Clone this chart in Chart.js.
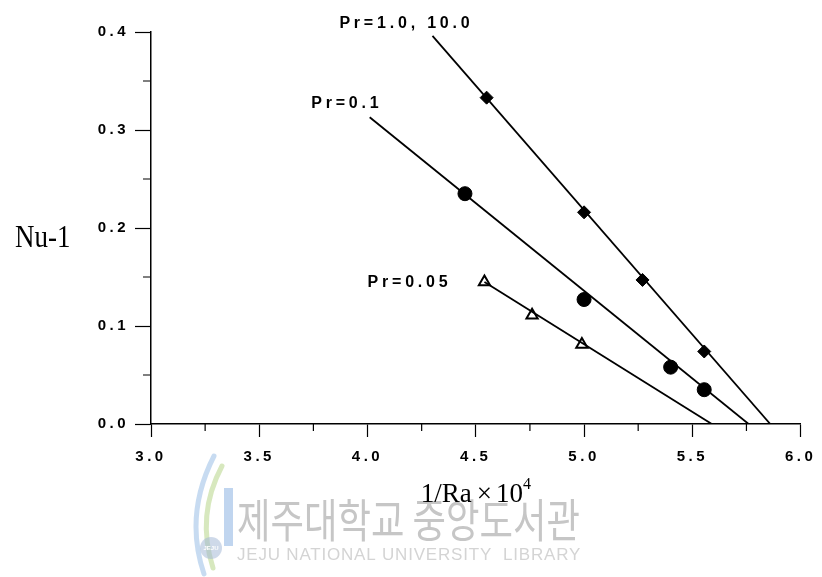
<!DOCTYPE html>
<html>
<head>
<meta charset="utf-8">
<script src="https://cdn.jsdelivr.net/npm/chart.js@4.4.1/dist/chart.umd.min.js"></script>
<style>
  html, body { margin: 0; padding: 0; background: #fff; }
</style>
</head>
<body>
<canvas id="nuChart" width="822" height="577"></canvas>
<script>
/* Nu-1 against 1/Ra x 10^4 for several Prandtl numbers */

// Pr = 1.0, 10.0 (diamonds)
const highX = [4.55, 5.0, 5.27, 5.555];
const highY = [0.333, 0.216, 0.147, 0.074];
const highFitX = [4.30, 5.86];
const highFitY = [0.396, 0.0];

// Pr = 0.1 (filled circles)
const midX = [4.45, 5.0, 5.40, 5.555];
const midY = [0.235, 0.127, 0.058, 0.035];
const midFitX = [4.01, 5.76];
const midFitY = [0.313, 0.0];

// Pr = 0.05 (open triangles)
const lowX = [4.54, 4.76, 4.99];
const lowY = [0.145, 0.111, 0.081];
const lowFitX = [4.54, 5.59];
const lowFitY = [0.145, 0.0];

// curve labels and where they sit (data units)
const curveNames = ['Pr=1.0, 10.0', 'Pr=0.1', 'Pr=0.05'];
const curveNameX = [3.87, 3.74, 4.0];
const curveNameY = [0.409, 0.327, 0.144];

// axes
const xMin = 3.0, xMax = 6.0, xStep = 0.5;
const yMin = 0.0, yMax = 0.4, yStep = 0.1;
const xMinorTicks = [3.25, 3.75, 4.25, 4.75, 5.25, 5.75];
const yMinorTicks = [0.05, 0.15, 0.25, 0.35];

function pts(xs, ys) {
    return xs.map((x, i) => ({x: x, y: ys[i]}));
}

function fitLine(xs, ys) {
    return {
        data: pts(xs, ys),
        showLine: true,
        borderColor: '#000',
        borderWidth: 1.8,
        pointRadius: 0,
        pointHoverRadius: 0
    };
}

function drawWatermark(ctx) {
    // logo (rough)
    ctx.lineCap = 'round';
    ctx.lineWidth = 5;
    ctx.strokeStyle = 'rgba(130,175,225,0.45)';
    ctx.beginPath();
    ctx.moveTo(214, 456);
    ctx.quadraticCurveTo(184, 515, 204, 574);
    ctx.stroke();
    ctx.strokeStyle = 'rgba(175,210,125,0.5)';
    ctx.beginPath();
    ctx.moveTo(222, 466);
    ctx.quadraticCurveTo(196, 515, 213, 568);
    ctx.stroke();
    ctx.fillStyle = 'rgba(150,185,228,0.6)';
    ctx.fillRect(224, 488, 9, 58);
    ctx.fillStyle = 'rgba(165,185,215,0.55)';
    ctx.beginPath();
    ctx.arc(211, 548, 11, 0, Math.PI * 2);
    ctx.fill();
    ctx.fillStyle = '#fff';
    ctx.font = 'bold 6px "Liberation Sans", Arial, sans-serif';
    ctx.textAlign = 'center';
    ctx.textBaseline = 'middle';
    ctx.fillText('JEJU', 211, 548);

    // library name, narrow and tall like the scan
    ctx.textAlign = 'left';
    ctx.textBaseline = 'alphabetic';
    ctx.fillStyle = '#c6c6c6';
    ctx.font = '46px "Noto Sans CJK KR", sans-serif';
    const kr = '제주대학교 중앙도서관';
    const krW = ctx.measureText(kr).width;
    ctx.save();
    ctx.translate(237, 537);
    ctx.scale(343 / krW, 1);
    ctx.fillText(kr, 0, 0);
    ctx.restore();
    ctx.fillStyle = '#d4d4d4';
    ctx.font = '17px "Liberation Sans", Arial, sans-serif';
    ctx.letterSpacing = '0.8px';
    ctx.fillText('JEJU NATIONAL UNIVERSITY  LIBRARY', 237, 560);
    ctx.letterSpacing = '0px';
}

const decor = {
    id: 'decor',
    beforeDraw(chart) {
        const ctx = chart.ctx;
        ctx.save();
        drawWatermark(ctx);
        ctx.restore();
        ctx.letterSpacing = '3.5px'; // wide tick labels
    },
    afterDraw(chart) {
        const ctx = chart.ctx;
        const xs = chart.scales.x;
        const ys = chart.scales.y;
        ctx.save();

        // minor ticks
        ctx.strokeStyle = '#000';
        ctx.lineWidth = 1.2;
        ctx.beginPath();
        xMinorTicks.forEach((v) => {
            const px = xs.getPixelForValue(v);
            ctx.moveTo(px, ys.bottom);
            ctx.lineTo(px, ys.bottom + 7);
        });
        yMinorTicks.forEach((v) => {
            const py = ys.getPixelForValue(v);
            ctx.moveTo(xs.left, py);
            ctx.lineTo(xs.left - 8, py);
        });
        ctx.stroke();

        // curve labels
        ctx.fillStyle = '#000';
        ctx.font = 'bold 16px "Liberation Sans", Arial, sans-serif';
        ctx.letterSpacing = '3.8px';
        ctx.textAlign = 'left';
        ctx.textBaseline = 'middle';
        curveNames.forEach((name, i) => {
            ctx.fillText(name, xs.getPixelForValue(curveNameX[i]), ys.getPixelForValue(curveNameY[i]));
        });
        ctx.letterSpacing = '0px';

        // axis titles
        const big = '27px "Liberation Serif", "Times New Roman", serif';
        const small = '16px "Liberation Serif", "Times New Roman", serif';
        ctx.textBaseline = 'alphabetic';
        const parts = ['1/Ra', '×', '10'];
        const gaps = [5, 4, 0];
        ctx.font = big;
        const widths = parts.map((p) => ctx.measureText(p).width);
        ctx.font = small;
        const w4 = ctx.measureText('4').width;
        const total = widths[0] + widths[1] + widths[2] + gaps[0] + gaps[1] + w4;
        let tx = (xs.left + xs.right) / 2 - total / 2;
        const ty = ys.bottom + 78;
        ctx.font = big;
        parts.forEach((p, i) => {
            ctx.fillText(p, tx, ty);
            tx += widths[i] + gaps[i];
        });
        ctx.font = small;
        ctx.fillText('4', tx, ty - 13);

        ctx.save();
        ctx.translate(15, 247);
        ctx.scale(1, 1.2);
        ctx.font = big;
        ctx.fillText('Nu-1', 0, 0);
        ctx.restore();

        ctx.restore();
        ctx.letterSpacing = '0px';
    }
};

const ctx = document.getElementById('nuChart');
new Chart(ctx, {
    type: 'scatter',
    data: {
        datasets: [
            fitLine(highFitX, highFitY),
            fitLine(midFitX, midFitY),
            fitLine(lowFitX, lowFitY),
            {
                data: pts(highX, highY),
                pointStyle: 'rectRot',
                pointRadius: 6.5,
                backgroundColor: '#000',
                borderColor: '#000',
                borderWidth: 1
            },
            {
                data: pts(midX, midY),
                pointStyle: 'circle',
                pointRadius: 7,
                backgroundColor: '#000',
                borderColor: '#000',
                borderWidth: 1
            },
            {
                data: pts(lowX, lowY),
                pointStyle: 'triangle',
                pointRadius: 6.5,
                backgroundColor: '#fff',
                borderColor: '#000',
                borderWidth: 2
            }
        ]
    },
    options: {
        responsive: false,
        animation: false,
        events: [],
        layout: {
            padding: {top: 32, right: 17, left: 0, bottom: 0}
        },
        plugins: {
            legend: {display: false},
            tooltip: {enabled: false}
        },
        scales: {
            x: {
                type: 'linear',
                min: xMin,
                max: xMax,
                afterFit: (scale) => { scale.height = 153; },
                border: {display: true, color: '#000', width: 1.5},
                grid: {
                    drawOnChartArea: false,
                    drawTicks: true,
                    tickLength: 13,
                    tickColor: '#000',
                    tickWidth: 1.2
                },
                ticks: {
                    stepSize: xStep,
                    padding: 11,
                    color: '#000',
                    font: {family: '"Liberation Sans", Arial, sans-serif', size: 15, weight: 'bold'},
                    maxRotation: 0,
                    callback: (v) => v.toFixed(1)
                },
                title: {display: false}
            },
            y: {
                type: 'linear',
                min: yMin,
                max: yMax,
                afterFit: (scale) => { scale.width = 151; },
                border: {display: true, color: '#000', width: 1.5},
                grid: {
                    drawOnChartArea: false,
                    drawTicks: true,
                    tickLength: 16,
                    tickColor: '#000',
                    tickWidth: 1.2
                },
                ticks: {
                    stepSize: yStep,
                    padding: 6,
                    color: '#000',
                    font: {family: '"Liberation Sans", Arial, sans-serif', size: 15, weight: 'bold'},
                    callback: (v) => v.toFixed(1)
                },
                title: {display: false}
            }
        }
    },
    plugins: [decor]
});
</script>
</body>
</html>
